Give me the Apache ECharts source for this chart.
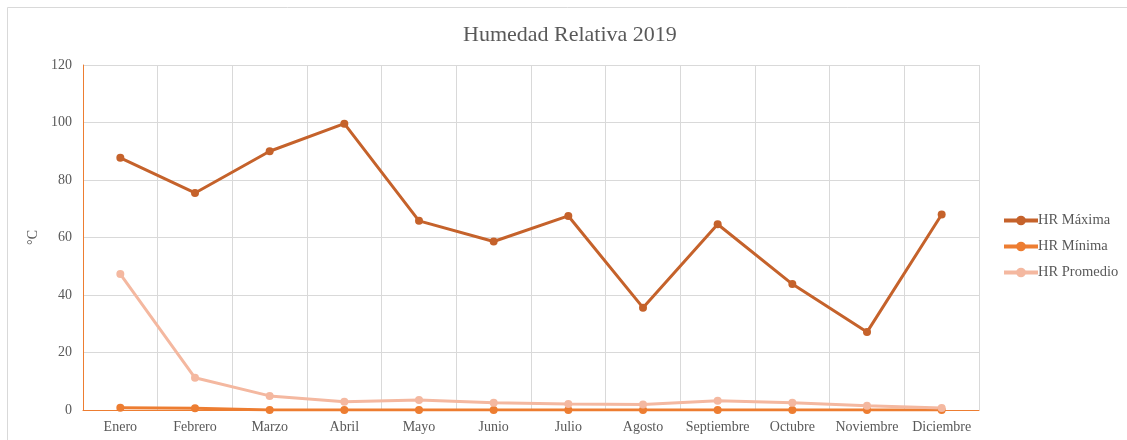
<!DOCTYPE html>
<html>
<head>
<meta charset="utf-8">
<script src="https://cdn.jsdelivr.net/npm/echarts@6/dist/echarts.min.js"></script>
<style>
  html, body { margin: 0; padding: 0; background: #fff; }
  #chart { width: 1127px; height: 440px; }
</style>
</head>
<body>
<div id="chart"></div>
<script>
// Monthly relative humidity, 2019
const months = ['Enero', 'Febrero', 'Marzo', 'Abril', 'Mayo', 'Junio', 'Julio',
  'Agosto', 'Septiembre', 'Octubre', 'Noviembre', 'Diciembre'];
const hrMaxima = [87.7, 75.5, 90.0, 99.6, 65.8, 58.6, 67.5, 35.6, 64.6, 43.8, 27.1, 68.0];
const hrMinima = [0.8, 0.6, 0, 0, 0, 0, 0, 0, 0, 0, 0, 0];
const hrPromedio = [47.3, 11.2, 4.9, 2.9, 3.5, 2.5, 2.1, 1.9, 3.2, 2.5, 1.5, 0.7];
const yTicks = { min: 0, max: 120, interval: 20 };

const serif = '"Liberation Serif", "DejaVu Serif", serif';
const textColor = '#595959';

function lineSeries(name, data, color) {
  return {
    name: name,
    type: 'line',
    data: data,
    symbol: 'circle',
    symbolSize: 8,
    lineStyle: { width: 3, color: color },
    itemStyle: { color: color },
    emphasis: { disabled: true }
  };
}

const chart = echarts.init(document.getElementById('chart'), null, { renderer: 'canvas' });
chart.setOption({
  animation: false,
  backgroundColor: '#fff',
  title: {
    text: 'Humedad Relativa 2019',
    left: 463,
    top: 24,
    padding: 0,
    textStyle: { fontFamily: serif, fontSize: 22, fontWeight: 'normal', color: textColor }
  },
  graphic: [{
    type: 'rect',
    shape: { x: 7.5, y: 7.5, width: 1130, height: 440 },
    style: { fill: 'none', stroke: '#D9D9D9', lineWidth: 1 },
    silent: true,
    z: -1
  }],
  legend: {
    orient: 'vertical',
    left: 1002,
    top: 213,
    padding: 0,
    itemGap: 11,
    itemWidth: 34,
    itemHeight: 12,
    lineStyle: { width: 4 },
    textStyle: { fontFamily: serif, fontSize: 14.5, color: textColor, padding: [0, 0, 0, -5] },
    data: ['HR Máxima', 'HR Mínima', 'HR Promedio']
  },
  grid: { left: 83, right: 148, top: 65, bottom: 30, containLabel: false },
  xAxis: {
    type: 'category',
    data: months,
    boundaryGap: true,
    axisLine: { show: true, lineStyle: { color: '#ED7D31', width: 1 } },
    axisTick: { show: false },
    axisLabel: { fontFamily: serif, fontSize: 14, color: textColor, margin: 10, interval: 0 },
    splitLine: { show: true, lineStyle: { color: '#D9D9D9', width: 1 } }
  },
  yAxis: {
    type: 'value',
    min: yTicks.min,
    max: yTicks.max,
    interval: yTicks.interval,
    name: '°C',
    nameLocation: 'middle',
    nameGap: 43,
    nameRotate: 90,
    nameTextStyle: { fontFamily: serif, fontSize: 14, color: textColor },
    axisLine: { show: true, lineStyle: { color: '#ED7D31', width: 1 } },
    axisTick: { show: false },
    axisLabel: { fontFamily: serif, fontSize: 14, color: textColor, margin: 11 },
    splitLine: { show: true, lineStyle: { color: '#D9D9D9', width: 1 } }
  },
  series: [
    lineSeries('HR Máxima', hrMaxima, '#C5622B'),
    lineSeries('HR Mínima', hrMinima, '#ED7D31'),
    lineSeries('HR Promedio', hrPromedio, '#F4B8A0')
  ]
});
</script>
</body>
</html>
